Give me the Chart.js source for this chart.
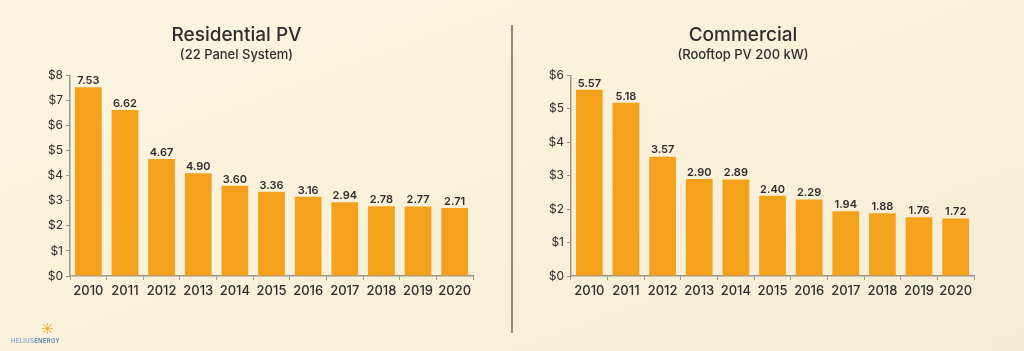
<!DOCTYPE html>
<html lang="en">
<head>
  <meta charset="UTF-8" />
  <title>Solar PV Cost per Watt</title>
  <script src="https://cdn.jsdelivr.net/npm/chart.js"></script>
  <style>
    html, body { margin: 0; padding: 0; }
    body {
      width: 1024px; height: 351px; overflow: hidden; position: relative;
      background: linear-gradient(160deg, #fcf5e0 0%, #f8f0d8 60%, #f5eed6 100%);
      font-family: Inter, "Open Sans", sans-serif;
    }
    .panel { position: absolute; top: 0; width: 512px; height: 351px; }
    #left { left: 0; }
    #right { left: 512px; }
    .divider { position: absolute; left: 511px; top: 25px; width: 2px; height: 308px; background: #8c877b; }
    .logo { position: absolute; left: 11px; bottom: 7px; font-size: 6px; letter-spacing: 0.3px; color: #5b8fc9; }
    .logo b { color: #f2a62a; font-size: 12px; position: absolute; left: 30px; top: -16px; }
  </style>
</head>
<body>
  <div class="panel" id="left"><canvas id="resChart" width="512" height="351"></canvas></div>
  <div class="panel" id="right"><canvas id="comChart" width="512" height="351"></canvas></div>
  <div class="divider"></div>
  <div class="logo"><b>☀</b>HELIUS<span style="color:#1f5fa8">ENERGY</span></div>

  <script>
    const years = ['2010', '2011', '2012', '2013', '2014', '2015', '2016', '2017', '2018', '2019', '2020'];

    // residential: bar heights as drawn, and the printed labels (2013 label differs from its bar)
    const residential = [7.53, 6.62, 4.67, 4.10, 3.60, 3.36, 3.16, 2.94, 2.78, 2.77, 2.71];
    const residentialLabels = ['7.53', '6.62', '4.67', '4.90', '3.60', '3.36', '3.16', '2.94', '2.78', '2.77', '2.71'];

    const commercial = [5.57, 5.18, 3.57, 2.90, 2.89, 2.40, 2.29, 1.94, 1.88, 1.76, 1.72];
    const commercialLabels = ['5.57', '5.18', '3.57', '2.90', '2.89', '2.40', '2.29', '1.94', '1.88', '1.76', '1.72'];

    const barColor = '#f4a21e';
    const textColor = '#2e2e2e';
    const axisColor = '#9a968c';

    const valueLabels = {
      id: 'valueLabels',
      afterDatasetsDraw(chart, args, opts) {
        const ctx = chart.ctx;
        const meta = chart.getDatasetMeta(0);
        ctx.save();
        ctx.font = '600 11px Inter, sans-serif';
        ctx.fillStyle = textColor;
        ctx.textAlign = 'center';
        ctx.textBaseline = 'bottom';
        meta.data.forEach((bar, i) => {
          ctx.fillText(opts.labels[i], bar.x, bar.y - 1);
        });
        ctx.restore();
      }
    };

    function makeChart(id, title, subtitle, values, labels, yMax, yWidth, padRight) {
      new Chart(document.getElementById(id), {
        type: 'bar',
        data: {
          labels: years,
          datasets: [{
            data: values,
            backgroundColor: barColor,
            categoryPercentage: 1,
            barPercentage: 0.73
          }]
        },
        options: {
          responsive: false,
          animation: false,
          layout: { padding: { left: 0, right: padRight, top: 0, bottom: 0 } },
          plugins: {
            legend: { display: false },
            tooltip: { enabled: false },
            title: {
              display: true,
              text: title,
              color: textColor,
              font: { family: 'Inter', size: 19, weight: '500' },
              padding: { top: 24, bottom: 0 }
            },
            subtitle: {
              display: true,
              text: subtitle,
              color: textColor,
              font: { family: 'Inter', size: 13, weight: '500' },
              padding: { top: 0, bottom: 13 }
            },
            valueLabels: { labels }
          },
          scales: {
            x: {
              grid: { display: true, drawOnChartArea: false, offset: true, color: axisColor, tickLength: 4 },
              border: { color: axisColor, width: 1.5 },
              ticks: {
                color: textColor,
                font: { family: 'Inter', size: 13, weight: '500' },
                padding: 3,
                maxRotation: 0,
                minRotation: 0,
                autoSkip: false
              },
              afterFit(s) { s.height = 75; }
            },
            y: {
              min: 0,
              max: yMax,
              grid: { display: true, drawOnChartArea: false, color: axisColor, tickLength: 4 },
              border: { color: axisColor, width: 1.5 },
              ticks: {
                stepSize: 1,
                color: textColor,
                font: { family: 'Inter', size: 12 },
                padding: 3,
                callback: v => '$' + v
              },
              afterFit(s) { s.width = yWidth; }
            }
          }
        },
        plugins: [valueLabels]
      });
    }

    makeChart('resChart', 'Residential PV', '(22 Panel System)', residential, residentialLabels, 8, 70, 39);
    makeChart('comChart', 'Commercial', '(Rooftop PV 200 kW)', commercial, commercialLabels, 6, 59, 50);
  </script>
</body>
</html>
